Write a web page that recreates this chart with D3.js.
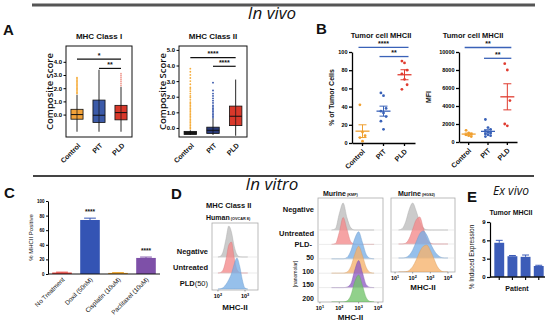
<!DOCTYPE html>
<html><head><meta charset="utf-8">
<script src="https://cdn.jsdelivr.net/npm/d3@7"></script>
<style>body{margin:0;background:#fff}svg{display:block}text{font-family:"Liberation Sans",Arial,sans-serif}</style>
</head><body><script>
// ---------- DATA ----------
const boxCats = ["Control", "PIT", "PLD"];
// Panel A1 – MHC Class I composite score
const mhc1Q1 = [-0.35, -0.6, -0.4];
const mhc1Med = [0.0, -0.05, 0.15];
const mhc1Q3 = [0.4, 1.1, 0.7];
const mhc1Lo = [-1.3, -1.3, -1.3];
const mhc1Hi = [1.5, 3.4, 2.1];
const mhc1Out = [[1.6,1.7,1.8,1.9,2.0,2.1,2.2,2.3,2.4,2.5,2.6,2.7,2.8], [], [2.2,2.35,2.5,2.65,2.8,2.95,3.1]];
const mhc1Ticks = [0, 1, 2, 3, 4];
// Panel A2 – MHC Class II composite score
const mhc2Q1 = [-0.42, -0.35, 0.15];
const mhc2Med = [-0.32, -0.15, 0.75];
const mhc2Q3 = [-0.22, 0.05, 1.4];
const mhc2Lo = [-0.45, -0.45, -0.5];
const mhc2Hi = [-0.15, 0.6, 3.1];
const mhc2Out = [[-0.05,0.05,0.15,0.25,0.35,0.45,0.55,0.65,0.75,0.85,0.95,1.05,1.15,1.25,1.35,1.45,1.55,1.65,1.8,1.95,2.05,2.2,2.35,2.5,2.6,2.8,3.0,3.2,3.4,3.6,3.8],
                 [0.65,0.75,0.85,0.95,1.05,1.15,1.25,1.35,1.45,1.6,1.75,1.9,2.05,2.2,2.4,2.9], []];
const mhc2Ticks = [0, 1, 2, 3, 4, 5];

// Panel B1 – % of tumor cells
const pctControl = [42, 12, 8, 6, 2];
const pctPIT = [55, 52, 38, 35, 33, 29, 24, 15];
const pctPLD = [90, 88, 80, 76, 70, 64, 59];
const pctMean = [13, 35, 75];
const pctSem = [7, 5.5, 5.5];
const pctTicks = [0, 20, 40, 60, 80, 100];
// Panel B2 – MFI
const mfiControl = [1300, 1000, 900, 800, 700, 600];
const mfiPIT = [2500, 1600, 1400, 1200, 1100, 1000, 900, 800, 700, 600];
const mfiPLD = [8700, 8000, 4600, 2000, 1800];
const mfiMean = [880, 1180, 5020];
const mfiSem = [110, 180, 1450];
const mfiTicks = [0, 2000, 4000, 6000, 8000, 10000];

// Panel C – in vitro % MHCII positive
const cCats = ["No Treatment", "Doxil (50nM)", "Cisplatin (10uM)", "Paclitaxel (10uM)"];
const cVals = [2, 74, 1.5, 22];
const cErr = [0.5, 2.5, 0.4, 1.2];
const cSig = ["", "****", "", "****"];
const cTicks = [0, 20, 40, 60, 80, 100];

// Panel D – flow histograms (log10 MHC-II grid, relative counts)
const d1Grid = [2.0,2.1,2.2,2.3,2.4,2.5,2.6,2.7,2.8,2.9,3.0,3.1];
const d1Neg = [0,0.03,0.2,0.6,1.0,0.8,0.35,0.08,0.01,0,0,0];
const d1Unt = [0,0.02,0.12,0.45,0.9,1.0,0.5,0.12,0.02,0,0,0];
const d1PLD = [0,0.01,0.05,0.15,0.3,0.5,0.8,1.0,0.75,0.3,0.03,0];
const d1Labels = ["Negative", "Untreated", "PLD"];

const d2Grid = [1.6,1.8,2.0,2.2,2.4,2.6,2.8,3.0,3.2,3.4,3.6,3.8];
const d2Neg = [0,0.05,0.6,1.0,0.45,0.08,0,0,0,0,0,0];
const d2Unt = [0,0.03,0.45,1.0,0.55,0.1,0.01,0,0,0,0,0];
const d2P50 = [0,0,0,0,0.05,0.3,0.75,1.0,0.6,0.15,0.02,0];
const d2P100 = [0,0,0,0,0.04,0.25,0.7,1.0,0.65,0.2,0.03,0];
const d2P150 = [0,0,0,0,0.02,0.15,0.65,1.0,0.55,0.1,0.01,0];
const d2P200 = [0,0,0,0,0.04,0.25,0.75,1.0,0.6,0.15,0.02,0];
const d2Doses = ["50", "100", "150", "200"];

const d3Grid = [1.2,1.4,1.6,1.8,2.0,2.2,2.4,2.6,2.8,3.0,3.2,3.4,3.6,3.8,4.0];
const d3Neg = [0,0.05,0.3,0.75,1.0,0.7,0.3,0.08,0.01,0,0,0,0,0,0];
const d3Unt = [0,0,0.03,0.2,0.55,0.9,1.0,0.6,0.2,0.04,0,0,0,0,0];
const d3PLDa = [0,0,0.02,0.1,0.3,0.6,0.9,1.0,0.85,0.55,0.3,0.12,0.03,0,0];
const d3PLDb = [0,0,0.01,0.06,0.2,0.45,0.75,0.95,1.0,0.8,0.5,0.2,0.05,0,0];
const logTicks = [1, 2, 3, 4];

// Panel E – ex vivo
const eCats = ["P1", "P2", "P3", "P4"];
const eVals = [5.6, 3.4, 3.3, 1.8];
const eErr = [0.4, 0.12, 0.3, 0.12];
const eTicks = [0, 3, 6, 9];

// ---------- DRAW ----------
const svg = d3.select("body").append("svg").attr("width", 550).attr("height", 327);
const C = {orange:"#f2a23a", blue:"#3b5aa8", red:"#d9382a"};
const OPEN = "'Open Sans',sans-serif";

function txt(x, y, s, size, opts = {}) {
  const t = svg.append("text").attr("x", x).attr("y", y).text(s)
    .attr("font-size", size).attr("fill", opts.fill || "#111")
    .attr("font-weight", opts.weight || (opts.bold ? "bold" : "normal"))
    .attr("text-anchor", opts.anchor || "start");
  if (opts.italic) t.attr("font-style", "italic");
  if (opts.family) t.style("font-family", opts.family);
  if (opts.rot !== undefined) t.attr("transform", `rotate(${opts.rot},${x},${y})`);
  return t;
}

// Dividers & headers
svg.append("line").attr("x1", 32).attr("x2", 535).attr("y1", 5).attr("y2", 5).attr("stroke", "#555").attr("stroke-width", 3);
svg.append("line").attr("x1", 33).attr("x2", 534).attr("y1", 176).attr("y2", 176).attr("stroke", "#444").attr("stroke-width", 2);
txt(272, 19, "In vivo", 17, {anchor:"middle", italic:true, family:OPEN});
txt(272, 190, "In vitro", 17, {anchor:"middle", italic:true, family:OPEN});
txt(511, 195, "Ex vivo", 12, {anchor:"middle", italic:true, family:OPEN});
[["A",3,35],["B",316,34],["C",4,198],["D",171,199],["E",467,202]].forEach(([s,x,y]) => txt(x, y, s, 15, {bold:true}));

// ---------- Panel A ----------
function boxPanel(cfg) {
  const x = d3.scaleBand().domain(boxCats).range([cfg.left, cfg.right]).padding(0);
  const y = d3.scaleLinear().domain(cfg.domain).range([cfg.bottom, cfg.top]);
  const g = svg.append("g");
  const bw = x.bandwidth() * 0.55;
  boxCats.forEach((c, i) => {
    const cx = x(c) + x.bandwidth() / 2;
    g.selectAll(null).data(cfg.out[i]).join("circle").attr("cx", cx).attr("cy", d => y(d)).attr("r", 0.9).attr("fill", cfg.outCol[i]);
    g.append("line").attr("x1", cx).attr("x2", cx).attr("y1", y(cfg.lo[i])).attr("y2", y(cfg.hi[i])).attr("stroke", "#111").attr("stroke-width", 0.9);
    g.append("rect").attr("x", cx - bw / 2).attr("width", bw).attr("y", y(cfg.q3[i])).attr("height", Math.max(1, y(cfg.q1[i]) - y(cfg.q3[i])))
      .attr("fill", cfg.fill[i]).attr("stroke", "#111").attr("stroke-width", 0.8);
    g.append("line").attr("x1", cx).attr("x2", cx).attr("y1", y(cfg.q3[i])).attr("y2", y(cfg.q1[i])).attr("stroke", "#111").attr("stroke-width", 0.7);
    g.append("line").attr("x1", cx - bw / 2).attr("x2", cx + bw / 2).attr("y1", y(cfg.med[i])).attr("y2", y(cfg.med[i])).attr("stroke", "#111").attr("stroke-width", 1);
    txt(cx + 4, cfg.bottom + 9, c, 7, {bold:true, anchor:"end", rot:-45});
  });
  g.append("rect").attr("x", cfg.left).attr("y", cfg.top).attr("width", cfg.right - cfg.left).attr("height", cfg.bottom - cfg.top)
    .attr("fill", "none").attr("stroke", "#111").attr("stroke-width", 1);
  const ax = g.append("g").attr("transform", `translate(${cfg.left},0)`).call(d3.axisLeft(y).tickValues(cfg.ticks).tickSize(2.5).tickPadding(1.5));
  ax.select(".domain").remove();
  ax.selectAll("text").attr("font-size", 6).attr("font-weight", "bold");
  cfg.sig.forEach(([a, b, v, s]) => {
    const x1 = x(a) + x.bandwidth() / 2, x2 = x(b) + x.bandwidth() / 2;
    g.append("line").attr("x1", x1).attr("x2", x2).attr("y1", y(v)).attr("y2", y(v)).attr("stroke", "#111").attr("stroke-width", 1.2);
    txt((x1 + x2) / 2, y(v) - 1.5, s, 7, {bold:true, anchor:"middle"});
  });
  txt((cfg.left + cfg.right) / 2, 39, cfg.title, 8, {bold:true, anchor:"middle"});
  txt(cfg.left - 13, (cfg.top + cfg.bottom) / 2, "Composite Score", 9.5, {anchor:"middle", rot:-90, family:OPEN, weight:600});
}
boxPanel({left:66, right:132, top:46, bottom:137, domain:[-1.7, 5.2], ticks:mhc1Ticks, title:"MHC Class I",
  q1:mhc1Q1, med:mhc1Med, q3:mhc1Q3, lo:mhc1Lo, hi:mhc1Hi, out:mhc1Out,
  fill:[C.orange, C.blue, C.red], outCol:["#f5ad3c", C.blue, "#f09a90"],
  sig:[["Control","PLD",4.2,"*"],["PIT","PLD",3.5,"**"]]});
boxPanel({left:179, right:247, top:46, bottom:137, domain:[-0.58, 5.25], ticks:mhc2Ticks, title:"MHC Class II",
  q1:mhc2Q1, med:mhc2Med, q3:mhc2Q3, lo:mhc2Lo, hi:mhc2Hi, out:mhc2Out,
  fill:["#1c1c1c", "#2a3a78", C.red], outCol:["#f5ad3c", "#3050a8", C.red],
  sig:[["Control","PLD",4.5,"****"],["PIT","PLD",3.95,"****"]]});

// ---------- Panel B ----------
function dotPanel(cfg) {
  const x = d3.scaleBand().domain(boxCats).range([cfg.left, cfg.right]).padding(0);
  const y = d3.scaleLinear().domain(cfg.domain).range([cfg.bottom, cfg.top]);
  const g = svg.append("g");
  const cols = ["#f0a030", "#3a62b8", "#e03c30"];
  cfg.points.forEach((pts, i) => {
    const cx = x(boxCats[i]) + x.bandwidth() / 2;
    g.selectAll(null).data(pts).join("circle")
      .attr("cx", (d, j) => cx + ((j % 3) - 1) * 2.6).attr("cy", d => y(d)).attr("r", 1.4).attr("fill", cols[i]);
    const m = cfg.mean[i], s = cfg.sem[i];
    g.append("line").attr("x1", cx - 7).attr("x2", cx + 7).attr("y1", y(m)).attr("y2", y(m)).attr("stroke", cols[i]).attr("stroke-width", 1.3);
    g.append("line").attr("x1", cx).attr("x2", cx).attr("y1", y(m - s)).attr("y2", y(m + s)).attr("stroke", cols[i]).attr("stroke-width", 1);
    [m - s, m + s].forEach(v => g.append("line").attr("x1", cx - 4).attr("x2", cx + 4).attr("y1", y(v)).attr("y2", y(v)).attr("stroke", cols[i]).attr("stroke-width", 1));
  });
  const ay = g.append("g").attr("transform", `translate(${cfg.left},0)`)
    .call(d3.axisLeft(y).tickValues(cfg.ticks).tickFormat(d3.format("d")).tickSize(3).tickPadding(1.5).tickSizeOuter(0));
  ay.selectAll("text").attr("font-size", 5.5).attr("font-weight", "bold");
  ay.selectAll("line,path").attr("stroke-width", 1.3);
  const axx = g.append("g").attr("transform", `translate(0,${cfg.bottom})`).call(d3.axisBottom(x).tickSize(3).tickSizeOuter(0).tickFormat(""));
  axx.selectAll("line,path").attr("stroke-width", 1.3);
  boxCats.forEach(c => txt(x(c) + x.bandwidth() / 2 + 3, cfg.bottom + 9, c, 7, {bold:true, anchor:"end", rot:-45}));
  cfg.sig.forEach(([a, b, v, s]) => {
    const x1 = x(a) + x.bandwidth() / 2 - 4, x2 = x(b) + x.bandwidth() / 2 + 4;
    g.append("line").attr("x1", x1).attr("x2", x2).attr("y1", y(v)).attr("y2", y(v)).attr("stroke", "#3a62b8").attr("stroke-width", 1.3);
    txt((x1 + x2) / 2, y(v) - 1.5, s, 7, {bold:true, anchor:"middle"});
  });
  txt(cfg.titleX, 38, "Tumor cell MHCII", 7.5, {bold:true, anchor:"middle"});
  txt(cfg.labelX, (cfg.top + cfg.bottom) / 2, cfg.ylabel, 7, {bold:true, anchor:"middle", rot:-90});
}
dotPanel({left:352, right:415, top:52, bottom:143, domain:[0, 100], ticks:pctTicks, points:[pctControl, pctPIT, pctPLD],
  mean:pctMean, sem:pctSem, sig:[["Control","PLD",105,"****"],["PIT","PLD",95,"**"]], titleX:381, labelX:334, ylabel:"% of Tumor Cells"});
dotPanel({left:459, right:517, top:52, bottom:142, domain:[0, 10000], ticks:mfiTicks, points:[mfiControl, mfiPIT, mfiPLD],
  mean:mfiMean, sem:mfiSem, sig:[["Control","PLD",10500,"**"],["PIT","PLD",9300,"**"]], titleX:473, labelX:431, ylabel:"MFI"});

// ---------- Panel C ----------
(function () {
  const left = 48, right = 160, top = 201, bottom = 274;
  const x = d3.scaleBand().domain(cCats).range([left, right]).paddingInner(0.3).paddingOuter(0.15);
  const y = d3.scaleLinear().domain([0, 100]).range([bottom, top]);
  const cols = ["#e8413a", "#3454b4", "#f0a428", "#7e50a8"];
  const g = svg.append("g");
  cCats.forEach((c, i) => {
    const bx = x(c), bw = x.bandwidth();
    g.append("rect").attr("x", bx).attr("width", bw).attr("y", y(cVals[i])).attr("height", bottom - y(cVals[i])).attr("fill", cols[i]);
    const cx = bx + bw / 2;
    g.append("line").attr("x1", cx).attr("x2", cx).attr("y1", y(cVals[i])).attr("y2", y(cVals[i] + cErr[i])).attr("stroke", cols[i]).attr("stroke-width", 1);
    g.append("line").attr("x1", cx - bw * 0.3).attr("x2", cx + bw * 0.3).attr("y1", y(cVals[i] + cErr[i])).attr("y2", y(cVals[i] + cErr[i])).attr("stroke", cols[i]).attr("stroke-width", 1);
    if (cSig[i]) txt(cx, y(cVals[i] + cErr[i]) - 4, cSig[i], 6.5, {bold:true, anchor:"middle"});
    txt(cx + 3, bottom + 6, c, 6.4, {anchor:"end", rot:-45});
  });
  const ay = g.append("g").attr("transform", `translate(${left},0)`).call(d3.axisLeft(y).tickValues(cTicks).tickSize(2).tickPadding(1.5).tickSizeOuter(0));
  ay.selectAll("text").attr("font-size", 4.5).attr("font-weight", "bold");
  g.append("line").attr("x1", left).attr("x2", right).attr("y1", bottom).attr("y2", bottom).attr("stroke", "#111").attr("stroke-width", 1);
  txt(33, (top + bottom) / 2, "% MHCII Positive", 6, {anchor:"middle", rot:-90});
})();

// ---------- Panel D ----------
function histPanel(cfg) {
  const x = d3.scaleLinear().domain(cfg.logDomain).range([cfg.left, cfg.right]);
  const base = d3.scaleLinear().domain([0, cfg.series.length - 1]).range(cfg.baseRange);
  const g = svg.append("g");
  g.append("rect").attr("x", cfg.left).attr("y", cfg.top).attr("width", cfg.right - cfg.left).attr("height", cfg.bottom - cfg.top)
    .attr("fill", "none").attr("stroke", "#aaa").attr("stroke-width", 0.8);
  const clip = "clip" + cfg.left;
  svg.append("clipPath").attr("id", clip).append("rect").attr("x", cfg.left).attr("y", cfg.top).attr("width", cfg.right - cfg.left).attr("height", cfg.bottom - cfg.top);
  const inner = g.append("g").attr("clip-path", `url(#${clip})`);
  cfg.series.forEach((vals, i) => {
    const b = base(i);
    const area = d3.area().x((d, j) => x(cfg.grid[j])).y0(b).y1(d => b - d * cfg.h).curve(d3.curveMonotoneX);
    inner.append("path").attr("d", area(vals)).attr("fill", cfg.colors[i]).attr("fill-opacity", 0.78)
      .attr("stroke", d3.color(cfg.colors[i]).darker(0.4)).attr("stroke-width", 0.4);
    if (i < cfg.series.length - 1) inner.append("line").attr("x1", cfg.left).attr("x2", cfg.right).attr("y1", b).attr("y2", b).attr("stroke", "#ddd").attr("stroke-width", 0.6);
  });
  cfg.ticks.forEach(t => {
    const tx = x(t);
    const tt = svg.append("text").attr("x", tx).attr("y", cfg.bottom + 8).attr("text-anchor", "middle").attr("font-size", 5.5).attr("font-weight", "bold");
    tt.append("tspan").text("10");
    tt.append("tspan").text(t).attr("font-size", 3.8).attr("dy", -2.5);
    g.append("line").attr("x1", tx).attr("x2", tx).attr("y1", cfg.bottom).attr("y2", cfg.bottom + 1.5).attr("stroke", "#666").attr("stroke-width", 0.6);
  });
  txt((cfg.left + cfg.right) / 2, cfg.xlabY, "MHC-II", 8, {bold:true, anchor:"middle"});
}
const dGray = "#bdbdbd", dRed = "#f4898a", dBlue = "#79aee6", dOrange = "#f6b26b", dPurple = "#8e5cc4", dGreen = "#72c46a";
histPanel({left:212, right:258, top:223, bottom:290, logDomain:[1.78, 3.48], grid:d1Grid, series:[d1Neg, d1Unt, d1PLD],
  colors:[dGray, dRed, dBlue], baseRange:[257, 289], h:31, ticks:[2, 3], xlabY:310});
histPanel({left:318, right:383, top:198, bottom:302, logDomain:[0.9, 4.26], grid:d2Grid, series:[d2Neg, d2Unt, d2P50, d2P100, d2P150, d2P200],
  colors:[dGray, dRed, dBlue, dOrange, dPurple, dGreen], baseRange:[230, 302], h:27, ticks:logTicks, xlabY:320});
histPanel({left:391, right:455, top:198, bottom:272, logDomain:[0.77, 4.4], grid:d3Grid, series:[d3Neg, d3Unt, d3PLDa, d3PLDb],
  colors:[dGray, dRed, dBlue, dOrange], baseRange:[230, 272], h:27, ticks:logTicks, xlabY:290});

// D labels
txt(206, 208, "MHC Class II", 7.5, {bold:true});
const hum = txt(206, 220, "Human", 7, {bold:true});
hum.append("tspan").text(" (OVCAR 8)").attr("font-size", 3.8);
txt(208, 254, d1Labels[0], 7.5, {bold:true, anchor:"end"});
txt(208, 270, d1Labels[1], 7.5, {bold:true, anchor:"end"});
const pl = txt(208, 286, d1Labels[2], 7.5, {bold:true, anchor:"end"});
pl.append("tspan").text("(50)").attr("font-weight", "normal");
const m1 = txt(323, 196, "Murine", 7, {bold:true});
m1.append("tspan").text(" (KMF)").attr("font-size", 3.8);
const m2 = txt(398, 196, "Murine", 7, {bold:true});
m2.append("tspan").text(" (HGS2)").attr("font-size", 3.8);
txt(314, 212, "Negative", 7.5, {bold:true, anchor:"end"});
txt(314, 236, "Untreated", 7.5, {bold:true, anchor:"end"});
txt(312, 247, "PLD-", 7.5, {bold:true, anchor:"end"});
d2Doses.forEach((s, i) => txt(314, 260 + i * 13.6, s, 7, {bold:true, anchor:"end"}));
txt(297, 274, "[nanomolar]", 5, {anchor:"middle", rot:-90});

// ---------- Panel E ----------
(function () {
  const left = 490, right = 545, top = 222, bottom = 277;
  const x = d3.scaleBand().domain(eCats).range([left + 3, right]).paddingInner(0.25).paddingOuter(0.1);
  const y = d3.scaleLinear().domain([0, 9]).range([bottom, top]);
  const g = svg.append("g");
  eCats.forEach((c, i) => {
    const bx = x(c), bw = x.bandwidth(), cx = bx + bw / 2;
    g.append("rect").attr("x", bx).attr("width", bw).attr("y", y(eVals[i])).attr("height", bottom - y(eVals[i])).attr("fill", "#3c5cb8");
    g.append("line").attr("x1", cx).attr("x2", cx).attr("y1", y(eVals[i])).attr("y2", y(eVals[i] + eErr[i])).attr("stroke", "#3c5cb8").attr("stroke-width", 1);
    g.append("line").attr("x1", cx - bw * 0.35).attr("x2", cx + bw * 0.35).attr("y1", y(eVals[i] + eErr[i])).attr("y2", y(eVals[i] + eErr[i])).attr("stroke", "#3c5cb8").attr("stroke-width", 1);
    g.append("line").attr("x1", cx).attr("x2", cx).attr("y1", bottom).attr("y2", bottom + 3).attr("stroke", "#111").attr("stroke-width", 1.2);
  });
  const ay = g.append("g").attr("transform", `translate(${left},0)`).call(d3.axisLeft(y).tickValues(eTicks).tickSize(3).tickPadding(1.5).tickSizeOuter(0));
  ay.selectAll("text").attr("font-size", 6).attr("font-weight", "bold");
  ay.selectAll("line,path").attr("stroke-width", 1.2);
  g.append("line").attr("x1", left).attr("x2", right).attr("y1", bottom).attr("y2", bottom).attr("stroke", "#111").attr("stroke-width", 1.3);
  txt(511, 215, "Tumor MHCII", 7, {bold:true, anchor:"middle"});
  txt(517, 291, "Patient", 7, {bold:true, anchor:"middle"});
  txt(474, 257, "% Induced Expression", 6.5, {anchor:"middle", rot:-90});
})();
</script></body></html>
